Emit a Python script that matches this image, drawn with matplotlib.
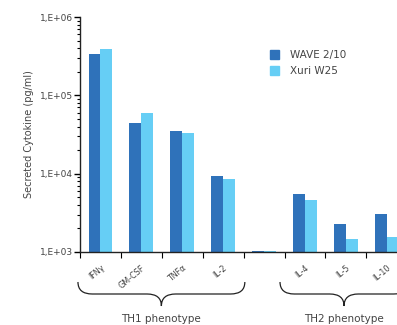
import numpy as np
import matplotlib
matplotlib.use("Agg")
import matplotlib.pyplot as plt
from matplotlib.path import Path
from matplotlib.patches import PathPatch, Patch
from matplotlib import transforms

categories = ["IFN\u03b3", "GM-CSF", "TNF\u03b1", "IL-2", "", "IL-4", "IL-5", "IL-10"]
wave = [3.4e5, 4.4e4, 3.5e4, 9.3e3, 1.02e3, 5.5e3, 2.3e3, 3.1e3]
xuri = [3.9e5, 5.9e4, 3.3e4, 8.5e3, 1.02e3, 4.6e3, 1.46e3, 1.55e3]
series_names = ["WAVE 2/10", "Xuri W25"]
groups = [("TH1 phenotype", -0.55, 3.53), ("TH2 phenotype", 4.39, 7.52)]

c_dark = "#2f72ba"
c_light = "#66cef5"
txt = "#444444"

fig = plt.figure(figsize=(3.97, 3.25), dpi=100)
ax = fig.add_axes([80/397, 73/325, 1 - 80/397, 235/325])

x = np.arange(len(categories))
w = 0.29
ax.bar(x - w/2, wave, w, color=c_dark, label=series_names[0])
ax.bar(x + w/2, xuri, w, color=c_light, label=series_names[1])

ax.set_yscale("log")
ax.set_yticks([1e3, 1e4, 1e5, 1e6])
ax.set_yticklabels(["1,E+03", "1,E+04", "1,E+05", "1,E+06"], fontsize=6.5, color=txt)
ax.tick_params(axis="y", which="major", length=4, width=1, direction="out", pad=1)
ax.tick_params(axis="y", which="minor", length=2, width=0.8, direction="out")

ax.set_xticks(np.arange(len(categories) + 1) - 0.5)
ax.set_xticklabels([])
ax.set_xticks(x, minor=True)
ax.set_xticklabels(categories, minor=True, rotation=40, ha="right",
                   rotation_mode="anchor", fontsize=5.8, color=txt)
ax.tick_params(axis="x", which="major", length=4, width=0.8, direction="out")
ax.tick_params(axis="x", which="minor", length=0, pad=8)
ax.set_ylim(1e3, 1e6)
ax.set_xlim(-0.5, 7.25)

for s in ["top", "right"]:
    ax.spines[s].set_visible(False)
for s in ["left", "bottom"]:
    ax.spines[s].set_color("#222222")
    ax.spines[s].set_linewidth(1.0)

ax.set_ylabel("Secreted Cytokine (pg/ml)", fontsize=7, color=txt, labelpad=4)

handles = [Patch(color=c_dark), Patch(color=c_light)]
ax.legend(handles, series_names, loc="upper left", bbox_to_anchor=(0.57, 0.90),
          frameon=False, fontsize=7.5, labelcolor=txt, handlelength=0.9,
          handleheight=0.9, handletextpad=1.0, labelspacing=0.6)

# braces under the groups
tr = transforms.blended_transform_factory(ax.transData, fig.transFigure)
yt, ym, ytip = 1 - 282/325, 1 - 294/325, 1 - 306/325
for name, x0, x1 in groups:
    xc = (x0 + x1) / 2
    d = 0.35
    verts = [(x0, yt), (x0, ym), (x0 + d, ym),
             (xc - d, ym),
             (xc, ym), (xc, ytip),
             (xc, ym), (xc + d, ym),
             (x1 - d, ym),
             (x1, ym), (x1, yt)]
    codes = [Path.MOVETO, Path.CURVE3, Path.CURVE3,
             Path.LINETO,
             Path.CURVE3, Path.CURVE3,
             Path.CURVE3, Path.CURVE3,
             Path.LINETO,
             Path.CURVE3, Path.CURVE3]
    ax.add_patch(PathPatch(Path(verts, codes), transform=tr, fill=False,
                           lw=0.9, ec="#222222", clip_on=False))
    fig.text(xc, 1 - 319/325, name, transform=tr,
             ha="center", va="center", fontsize=7.5, color=txt)

fig.savefig("out.png", dpi=100)
